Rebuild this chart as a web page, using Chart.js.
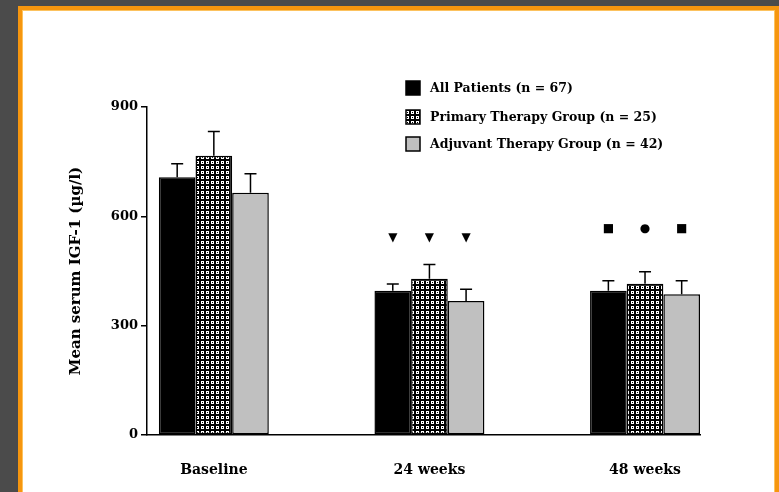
<!DOCTYPE html>
<html>
<head>
<meta charset="utf-8">
<script src="https://cdn.jsdelivr.net/npm/chart.js@4/dist/chart.umd.min.js"></script>
<style>
  html, body { margin: 0; padding: 0; width: 779px; height: 492px; overflow: hidden; background: #4b4b4b; }
  .frame {
    position: absolute; left: 18px; top: 6px; width: 753px; height: 500px;
    background: #fff; border: 4px solid #f6960f; border-bottom: none;
    box-shadow: inset 0 0 0 1px #fcc25e;
  }
  canvas { position: absolute; left: 0; top: 0; }
</style>
</head>
<body>
<div class="frame"></div>
<canvas id="chart" width="779" height="492"></canvas>
<script>
const categories = ['Baseline', '24 weeks', '48 weeks'];
const yTicks = [0, 300, 600, 900];

const allPatients = [707, 396, 396];
const allPatientsErr = [37, 18, 27];
const primaryGroup = [766, 429, 415];
const primaryGroupErr = [67, 39, 33];
const adjuvantGroup = [665, 368, 386];
const adjuvantGroupErr = [52, 32, 37];

const seriesLabels = [
  'All Patients (n = 67)',
  'Primary Therapy Group (n = 25)',
  'Adjuvant Therapy Group (n = 42)',
];

// significance marks above the 24 and 48 week bars
const markLevels = [null, 540, 565];
const markGlyphs = [null, ['▼', '▼', '▼'], ['■', '●', '■']];

const FONT = "'DejaVu Serif', serif";

function checkerPattern() {
  const c = document.createElement('canvas');
  c.width = 5; c.height = 5;
  const g = c.getContext('2d');
  g.fillStyle = '#000';
  g.fillRect(0, 0, 5, 5);
  g.fillStyle = '#fff';
  g.fillRect(1, 1, 3, 1);
  g.fillRect(1, 3, 3, 1);
  g.fillRect(1, 2, 1, 1);
  g.fillRect(3, 2, 1, 1);
  return g.createPattern(c, 'repeat');
}

const pattern = checkerPattern();

const toPoints = arr => arr.map((v, i) => ({ x: i, y: v }));

const errorBars = {
  id: 'errorBars',
  afterDatasetsDraw(chart) {
    const ctx = chart.ctx;
    const y = chart.scales.y;
    const errs = [allPatientsErr, primaryGroupErr, adjuvantGroupErr];
    const vals = [allPatients, primaryGroup, adjuvantGroup];
    ctx.save();
    ctx.strokeStyle = '#000';
    ctx.lineWidth = 1.5;
    chart.data.datasets.forEach((ds, di) => {
      chart.getDatasetMeta(di).data.forEach((bar, i) => {
        const top = y.getPixelForValue(vals[di][i] + errs[di][i]);
        ctx.beginPath();
        ctx.moveTo(bar.x, bar.y);
        ctx.lineTo(bar.x, top);
        ctx.moveTo(bar.x - 6, top);
        ctx.lineTo(bar.x + 6, top);
        ctx.stroke();
      });
    });

    // significance marks
    ctx.fillStyle = '#000';
    ctx.textAlign = 'center';
    ctx.textBaseline = 'middle';
    ctx.font = "bold 12px 'DejaVu Sans'";
    markLevels.forEach((lvl, i) => {
      if (lvl == null) return;
      const py = y.getPixelForValue(lvl);
      chart.data.datasets.forEach((ds, di) => {
        const bar = chart.getDatasetMeta(di).data[i];
        ctx.fillText(markGlyphs[i][di], bar.x, py);
      });
    });

    // legend
    ctx.textAlign = 'left';
    ctx.font = 'bold 12.5px ' + FONT;
    const rows = [88, 117, 144];
    chart.data.datasets.forEach((ds, di) => {
      ctx.fillStyle = ds.backgroundColor;
      ctx.fillRect(406, rows[di] - 7, 14, 14);
      ctx.strokeRect(406, rows[di] - 7, 14, 14);
      ctx.fillStyle = '#000';
      ctx.fillText(seriesLabels[di], 430, rows[di] + 1);
    });
    ctx.restore();
  }
};

new Chart(document.getElementById('chart'), {
  type: 'bar',
  data: {
    datasets: [
      { label: seriesLabels[0], data: toPoints(allPatients), backgroundColor: '#000' },
      { label: seriesLabels[1], data: toPoints(primaryGroup), backgroundColor: pattern },
      { label: seriesLabels[2], data: toPoints(adjuvantGroup), backgroundColor: '#c0c0c0' },
    ].map(d => Object.assign(d, {
      borderColor: '#000', borderWidth: 1.5, borderSkipped: false,
      categoryPercentage: 0.51, barPercentage: 1,
    })),
  },
  options: {
    responsive: false,
    animation: false,
    layout: { padding: { left: 63, top: 107, right: 79, bottom: 17 } },
    plugins: { legend: { display: false }, tooltip: { enabled: false } },
    scales: {
      x: {
        type: 'linear',
        offset: false,
        min: -0.31,
        max: 2.255,
        afterFit: s => { s.height = 40; },
        afterBuildTicks: s => { s.ticks = categories.map((c, i) => ({ value: i })); },
        grid: { display: false },
        border: { display: true, color: '#000', width: 1.5 },
        ticks: {
          color: '#000', padding: 19, maxRotation: 0,
          font: { family: FONT, size: 14, weight: 'bold' },
          callback: v => categories[v],
        },
      },
      y: {
        min: 0,
        max: 900,
        afterFit: s => { s.width = 84; },
        afterBuildTicks: s => { s.ticks = yTicks.map(v => ({ value: v })); },
        grid: { drawOnChartArea: false, drawTicks: true, tickLength: 6, color: '#000', lineWidth: 1.5 },
        border: { display: true, color: '#000', width: 1.5 },
        ticks: { color: '#000', padding: 3, font: { family: FONT, size: 13, weight: 'bold' } },
        title: {
          display: true,
          text: 'Mean serum IGF-1 (µg/l)',
          color: '#000',
          font: { family: FONT, size: 15, weight: 'bold' },
        },
      },
    },
  },
  plugins: [errorBars],
});
</script>
</body>
</html>
